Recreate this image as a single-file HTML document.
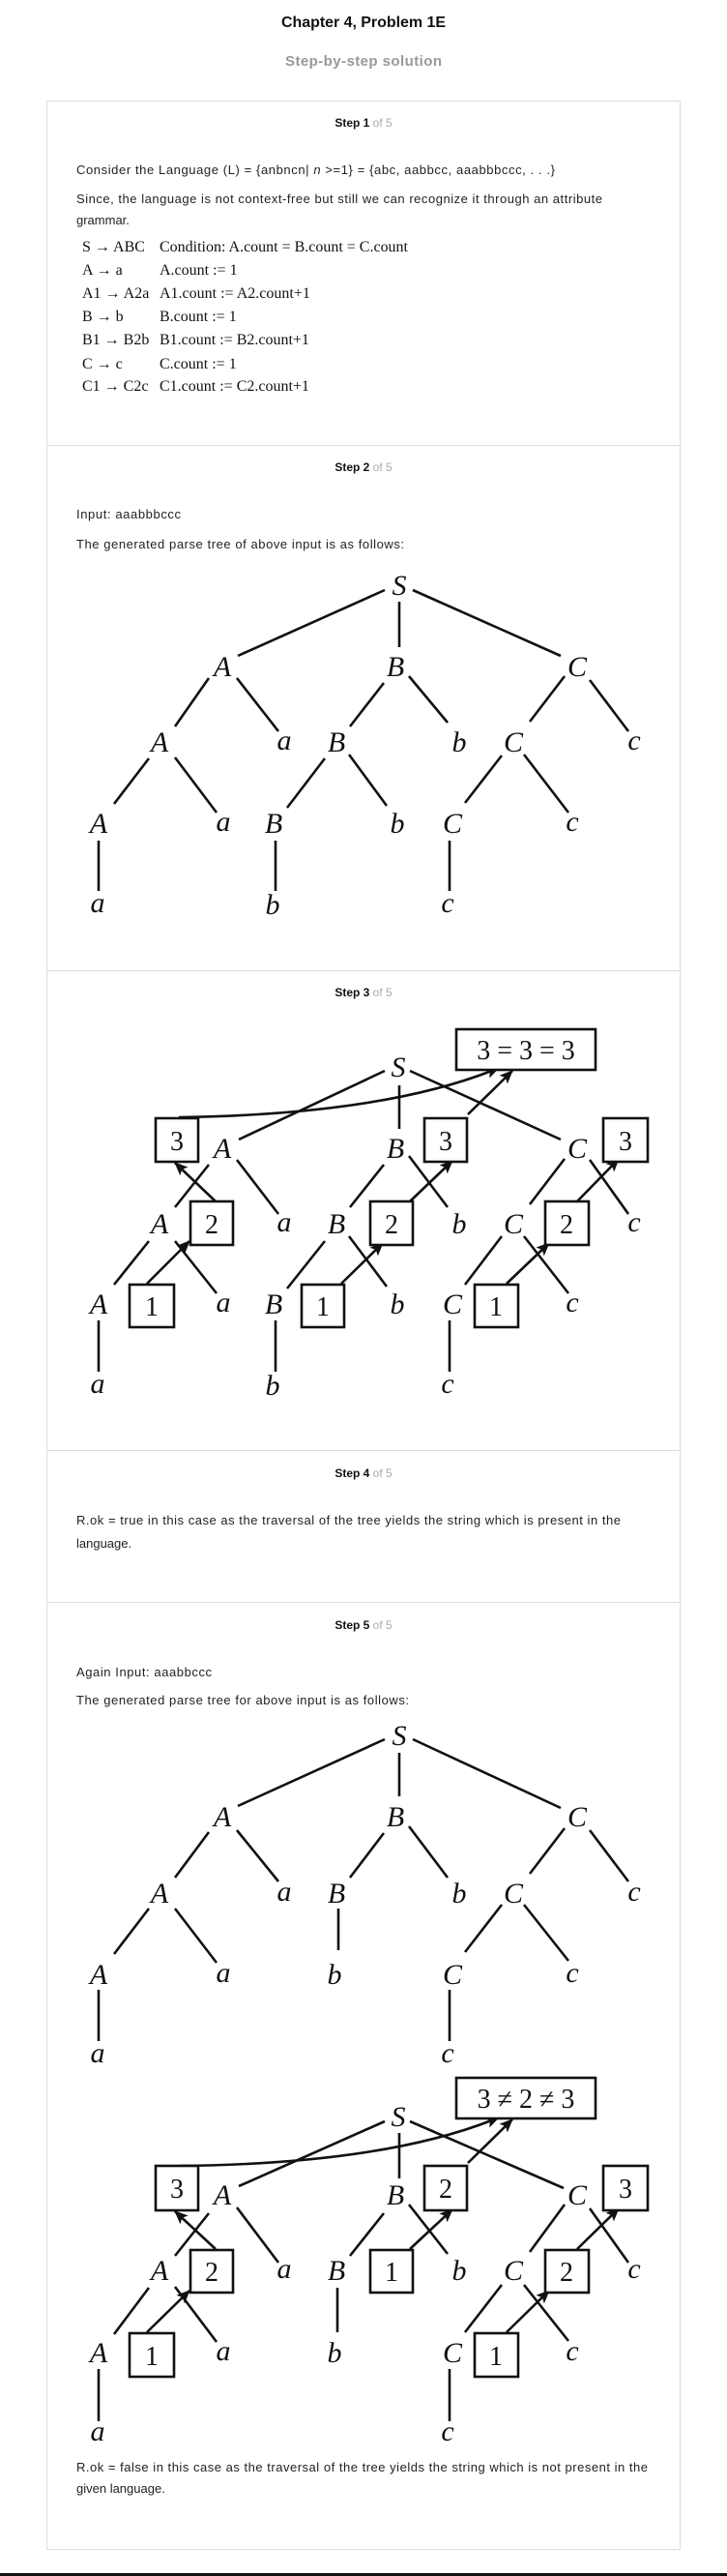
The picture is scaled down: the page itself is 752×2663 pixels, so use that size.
<!DOCTYPE html>
<html><head><meta charset="utf-8"><style>
html,body{margin:0;padding:0;background:#fff;}
svg{display:block;}
.t{font-family:"Liberation Sans",Arial,sans-serif;font-size:13px;fill:#222;}
.h{font-family:"Liberation Sans",Arial,sans-serif;font-size:12px;font-weight:bold;fill:#111;}
.g{font-weight:normal;fill:#aaa;}
.r{font-family:"Liberation Serif",serif;font-size:16px;fill:#111;}
.n{font-family:"Liberation Serif",serif;font-style:italic;font-size:30px;fill:#111;text-anchor:middle;}
.d{font-family:"Liberation Serif",serif;font-size:28px;fill:#111;text-anchor:middle;}
.ln line{stroke:#111;stroke-width:2.6;}
.ar line,.ar path{stroke:#111;stroke-width:2.6;fill:none;}
.bx{fill:#fff;stroke:#111;stroke-width:2.6;}
</style></head><body>
<svg width="752" height="2663" viewBox="0 0 752 2663" xmlns="http://www.w3.org/2000/svg">
<defs><marker id="ah" markerUnits="userSpaceOnUse" markerWidth="14" markerHeight="12" refX="13" refY="6" orient="auto"><path d="M0,0 L14,6 L0,12 L3,6 Z" fill="#111"/></marker></defs>

<text x="376" y="28" text-anchor="middle" style="font-family:'Liberation Sans',Arial,sans-serif;font-size:16px;font-weight:bold;fill:#111" textLength="170">Chapter 4, Problem 1E</text>
<text x="376" y="68" text-anchor="middle" style="font-family:'Liberation Sans',Arial,sans-serif;font-size:15px;font-weight:bold;fill:#999" textLength="162">Step-by-step solution</text>

<rect x="48.5" y="104.5" width="655" height="2531" fill="none" stroke="#ddd"/>
<line x1="49" y1="460.5" x2="703" y2="460.5" stroke="#ddd"/>
<line x1="49" y1="1003.5" x2="703" y2="1003.5" stroke="#ddd"/>
<line x1="49" y1="1499.5" x2="703" y2="1499.5" stroke="#ddd"/>
<line x1="49" y1="1656.5" x2="703" y2="1656.5" stroke="#ddd"/>
<rect x="0" y="2660" width="752" height="3" fill="#111"/>

<!-- Step 1 -->
<text x="376" y="131" text-anchor="middle" class="h">Step 1 <tspan class="g">of 5</tspan></text>
<text x="79" y="180" class="t" textLength="495">Consider the Language (L) = {anbncn| <tspan font-style="italic">n</tspan> &gt;=1} = {abc, aabbcc, aaabbbccc, . . .}</text>
<text x="79" y="210" class="t" textLength="544">Since, the language is not context-free but still we can recognize it through an attribute</text>
<text x="79" y="232" class="t">grammar.</text>
<text x="85" y="260" class="r">S → ABC</text><text x="165" y="260" class="r" textLength="257">Condition: A.count = B.count = C.count</text>
<text x="85" y="284" class="r">A → a</text><text x="165" y="284" class="r">A.count := 1</text>
<text x="85" y="308" class="r">A1 → A2a</text><text x="165" y="308" class="r">A1.count := A2.count+1</text>
<text x="85" y="332" class="r">B → b</text><text x="165" y="332" class="r">B.count := 1</text>
<text x="85" y="356" class="r">B1 → B2b</text><text x="165" y="356" class="r">B1.count := B2.count+1</text>
<text x="85" y="381" class="r">C → c</text><text x="165" y="381" class="r">C.count := 1</text>
<text x="85" y="404" class="r">C1 → C2c</text><text x="165" y="404" class="r">C1.count := C2.count+1</text>

<!-- Step 2 -->
<text x="376" y="487" text-anchor="middle" class="h">Step 2 <tspan class="g">of 5</tspan></text>
<text x="79" y="536" class="t" textLength="108">Input: aaabbbccc</text>
<text x="79" y="567" class="t" textLength="339">The generated parse tree of above input is as follows:</text>
<g class="ln">
<line x1="398" y1="610" x2="246" y2="678"/><line x1="413" y1="622" x2="413" y2="669"/><line x1="427" y1="610" x2="580" y2="678"/>
<line x1="216" y1="701" x2="181" y2="751"/><line x1="245" y1="701" x2="288" y2="756"/>
<line x1="397" y1="706" x2="362" y2="751"/><line x1="423" y1="699" x2="463" y2="747"/>
<line x1="584" y1="699" x2="548" y2="746"/><line x1="610" y1="703" x2="650" y2="756"/>
<line x1="154" y1="784" x2="118" y2="831"/><line x1="181" y1="783" x2="224" y2="840"/>
<line x1="336" y1="784" x2="297" y2="835"/><line x1="361" y1="780" x2="400" y2="833"/>
<line x1="519" y1="781" x2="481" y2="830"/><line x1="542" y1="780" x2="588" y2="840"/>
<line x1="102" y1="869" x2="102" y2="921"/><line x1="285" y1="869" x2="285" y2="921"/><line x1="465" y1="869" x2="465" y2="921"/>
</g>
<g class="n">
<text x="413" y="615">S</text>
<text x="230" y="699">A</text><text x="409" y="699">B</text><text x="597" y="699">C</text>
<text x="165" y="777">A</text><text x="294" y="775">a</text><text x="348" y="777">B</text><text x="475" y="777">b</text><text x="531" y="777">C</text><text x="656" y="775">c</text>
<text x="102" y="861">A</text><text x="231" y="859">a</text><text x="283" y="861">B</text><text x="411" y="861">b</text><text x="468" y="861">C</text><text x="592" y="859">c</text>
<text x="101" y="943">a</text><text x="282" y="945">b</text><text x="463" y="943">c</text>
</g>

<!-- Step 3 -->
<text x="376" y="1030" text-anchor="middle" class="h">Step 3 <tspan class="g">of 5</tspan></text>
<g class="ln">
<line x1="398" y1="1107" x2="247" y2="1178"/><line x1="413" y1="1122" x2="413" y2="1167"/><line x1="424" y1="1107" x2="580" y2="1178"/>
<line x1="216" y1="1204" x2="181" y2="1248"/><line x1="245" y1="1199" x2="288" y2="1255"/>
<line x1="397" y1="1204" x2="362" y2="1248"/><line x1="423" y1="1195" x2="463" y2="1248"/>
<line x1="584" y1="1198" x2="548" y2="1245"/><line x1="610" y1="1199" x2="650" y2="1255"/>
<line x1="154" y1="1283" x2="118" y2="1328"/><line x1="181" y1="1283" x2="224" y2="1337"/>
<line x1="336" y1="1283" x2="297" y2="1332"/><line x1="361" y1="1278" x2="400" y2="1330"/>
<line x1="519" y1="1278" x2="481" y2="1328"/><line x1="542" y1="1278" x2="588" y2="1337"/>
<line x1="102" y1="1365" x2="102" y2="1418"/><line x1="285" y1="1365" x2="285" y2="1418"/><line x1="465" y1="1365" x2="465" y2="1418"/>
</g>
<g class="ar">
<line x1="152" y1="1327" x2="196" y2="1283" marker-end="url(#ah)"/>
<line x1="223" y1="1242" x2="181" y2="1202" marker-end="url(#ah)"/>
<line x1="353" y1="1327" x2="396" y2="1285" marker-end="url(#ah)"/>
<line x1="424" y1="1242" x2="468" y2="1200" marker-end="url(#ah)"/>
<line x1="484" y1="1152" x2="530" y2="1107" marker-end="url(#ah)"/>
<line x1="524" y1="1327" x2="568" y2="1285" marker-end="url(#ah)"/>
<line x1="597" y1="1242" x2="640" y2="1198" marker-end="url(#ah)"/>
<path d="M185,1155 Q400,1152 516,1104" marker-end="url(#ah)"/>
</g>
<rect class="bx" x="472" y="1064" width="144" height="42"/><text x="544" y="1095" class="d">3 = 3 = 3</text>
<rect class="bx" x="161" y="1156" width="44" height="45"/><text x="183" y="1189" class="d">3</text>
<rect class="bx" x="439" y="1156" width="44" height="45"/><text x="461" y="1189" class="d">3</text>
<rect class="bx" x="624" y="1156" width="46" height="45"/><text x="647" y="1189" class="d">3</text>
<rect class="bx" x="197" y="1242" width="44" height="45"/><text x="219" y="1275" class="d">2</text>
<rect class="bx" x="383" y="1242" width="44" height="45"/><text x="405" y="1275" class="d">2</text>
<rect class="bx" x="564" y="1242" width="45" height="45"/><text x="586" y="1275" class="d">2</text>
<rect class="bx" x="134" y="1328" width="46" height="44"/><text x="157" y="1360" class="d">1</text>
<rect class="bx" x="312" y="1328" width="44" height="44"/><text x="334" y="1360" class="d">1</text>
<rect class="bx" x="491" y="1328" width="45" height="44"/><text x="513" y="1360" class="d">1</text>
<g class="n">
<text x="412" y="1113">S</text>
<text x="230" y="1197">A</text><text x="409" y="1197">B</text><text x="597" y="1197">C</text>
<text x="165" y="1275">A</text><text x="294" y="1273">a</text><text x="348" y="1275">B</text><text x="475" y="1275">b</text><text x="531" y="1275">C</text><text x="656" y="1273">c</text>
<text x="102" y="1358">A</text><text x="231" y="1356">a</text><text x="283" y="1358">B</text><text x="411" y="1358">b</text><text x="468" y="1358">C</text><text x="592" y="1356">c</text>
<text x="101" y="1440">a</text><text x="282" y="1442">b</text><text x="463" y="1440">c</text>
</g>

<!-- Step 4 -->
<text x="376" y="1527" text-anchor="middle" class="h">Step 4 <tspan class="g">of 5</tspan></text>
<text x="79" y="1576" class="t" textLength="563">R.ok = true in this case as the traversal of the tree yields the string which is present in the</text>
<text x="79" y="1600" class="t">language.</text>

<!-- Step 5 -->
<text x="376" y="1684" text-anchor="middle" class="h">Step 5 <tspan class="g">of 5</tspan></text>
<text x="79" y="1733" class="t" textLength="140">Again Input: aaabbccc</text>
<text x="79" y="1762" class="t" textLength="344">The generated parse tree for above input is as follows:</text>
<g class="ln">
<line x1="398" y1="1798" x2="246" y2="1867"/><line x1="413" y1="1812" x2="413" y2="1857"/><line x1="427" y1="1798" x2="580" y2="1869"/>
<line x1="216" y1="1894" x2="181" y2="1941"/><line x1="245" y1="1892" x2="288" y2="1945"/>
<line x1="397" y1="1895" x2="362" y2="1941"/><line x1="423" y1="1888" x2="463" y2="1941"/>
<line x1="584" y1="1890" x2="548" y2="1937"/><line x1="610" y1="1892" x2="650" y2="1945"/>
<line x1="154" y1="1973" x2="118" y2="2020"/><line x1="181" y1="1973" x2="224" y2="2029"/>
<line x1="350" y1="1973" x2="350" y2="2016"/>
<line x1="519" y1="1969" x2="481" y2="2018"/><line x1="542" y1="1969" x2="588" y2="2027"/>
<line x1="102" y1="2057" x2="102" y2="2110"/><line x1="465" y1="2057" x2="465" y2="2110"/>
</g>
<g class="n">
<text x="413" y="1804">S</text>
<text x="230" y="1888">A</text><text x="409" y="1888">B</text><text x="597" y="1888">C</text>
<text x="165" y="1967">A</text><text x="294" y="1965">a</text><text x="348" y="1967">B</text><text x="475" y="1967">b</text><text x="531" y="1967">C</text><text x="656" y="1965">c</text>
<text x="102" y="2051">A</text><text x="231" y="2049">a</text><text x="346" y="2051">b</text><text x="468" y="2051">C</text><text x="592" y="2049">c</text>
<text x="101" y="2132">a</text><text x="463" y="2132">c</text>
</g>

<g class="ln">
<line x1="398" y1="2193" x2="247" y2="2260"/><line x1="413" y1="2205" x2="413" y2="2252"/><line x1="424" y1="2193" x2="583" y2="2262"/>
<line x1="216" y1="2288" x2="181" y2="2332"/><line x1="245" y1="2282" x2="288" y2="2339"/>
<line x1="397" y1="2288" x2="362" y2="2332"/><line x1="423" y1="2279" x2="463" y2="2330"/>
<line x1="584" y1="2279" x2="548" y2="2328"/><line x1="610" y1="2283" x2="650" y2="2339"/>
<line x1="154" y1="2365" x2="118" y2="2413"/><line x1="181" y1="2364" x2="224" y2="2421"/>
<line x1="349" y1="2365" x2="349" y2="2411"/>
<line x1="519" y1="2362" x2="481" y2="2411"/><line x1="542" y1="2362" x2="588" y2="2420"/>
<line x1="102" y1="2449" x2="102" y2="2503"/><line x1="465" y1="2449" x2="465" y2="2503"/>
</g>
<g class="ar">
<line x1="152" y1="2411" x2="196" y2="2368" marker-end="url(#ah)"/>
<line x1="223" y1="2325" x2="181" y2="2286" marker-end="url(#ah)"/>
<line x1="424" y1="2325" x2="468" y2="2284" marker-end="url(#ah)"/>
<line x1="484" y1="2236" x2="530" y2="2191" marker-end="url(#ah)"/>
<line x1="524" y1="2411" x2="568" y2="2368" marker-end="url(#ah)"/>
<line x1="597" y1="2325" x2="640" y2="2283" marker-end="url(#ah)"/>
<path d="M185,2239 Q400,2237 516,2189" marker-end="url(#ah)"/>
</g>
<rect class="bx" x="472" y="2148" width="144" height="42"/><text x="544" y="2179" class="d">3 ≠ 2 ≠ 3</text>
<rect class="bx" x="161" y="2239" width="44" height="46"/><text x="183" y="2272" class="d">3</text>
<rect class="bx" x="439" y="2239" width="44" height="46"/><text x="461" y="2272" class="d">2</text>
<rect class="bx" x="624" y="2239" width="46" height="46"/><text x="647" y="2272" class="d">3</text>
<rect class="bx" x="197" y="2326" width="44" height="44"/><text x="219" y="2358" class="d">2</text>
<rect class="bx" x="383" y="2326" width="44" height="44"/><text x="405" y="2358" class="d">1</text>
<rect class="bx" x="564" y="2326" width="45" height="44"/><text x="586" y="2358" class="d">2</text>
<rect class="bx" x="134" y="2412" width="46" height="45"/><text x="157" y="2445" class="d">1</text>
<rect class="bx" x="491" y="2412" width="45" height="45"/><text x="513" y="2445" class="d">1</text>
<g class="n">
<text x="412" y="2198">S</text>
<text x="230" y="2279">A</text><text x="409" y="2279">B</text><text x="597" y="2279">C</text>
<text x="165" y="2357">A</text><text x="294" y="2355">a</text><text x="348" y="2357">B</text><text x="475" y="2357">b</text><text x="531" y="2357">C</text><text x="656" y="2355">c</text>
<text x="102" y="2442">A</text><text x="231" y="2440">a</text><text x="346" y="2442">b</text><text x="468" y="2442">C</text><text x="592" y="2440">c</text>
<text x="101" y="2523">a</text><text x="463" y="2523">c</text>
</g>
<text x="79" y="2555" class="t" textLength="591">R.ok = false in this case as the traversal of the tree yields the string which is not present in the</text>
<text x="79" y="2577" class="t">given language.</text>
</svg>
</body></html>
